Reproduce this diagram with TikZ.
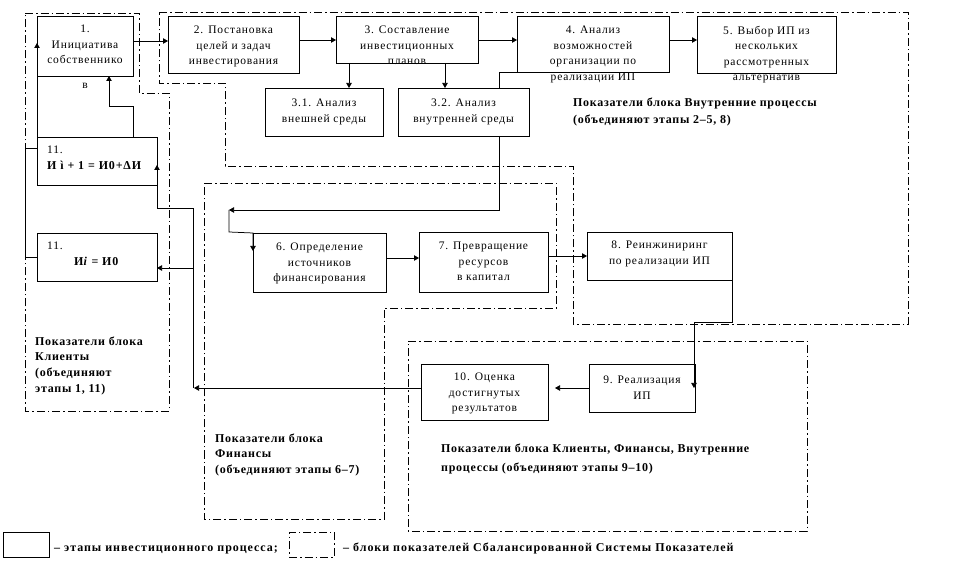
\documentclass[tikz,border=0pt]{standalone}
\usepackage{fontspec}
\setmainfont{Liberation Serif}
\newfontfamily\boxfont[LetterSpace=7]{Liberation Serif}
\newfontfamily\lblfont[LetterSpace=6]{Liberation Serif}
\newfontfamily\legfont[LetterSpace=8]{Liberation Serif}
\usetikzlibrary{arrows.meta,calc}
\begin{document}
\begin{tikzpicture}[x=1pt,y=-1pt,
  stepbox/.style={draw, line width=0.75pt, inner sep=0pt, outer sep=0pt},
  blkbox/.style={draw, line width=0.75pt, inner sep=0pt, outer sep=0pt, dash pattern=on 8pt off 3pt on 1.5pt off 3pt},
  boxtxt/.style={align=center, inner sep=0pt, anchor=north, font=\boxfont\fontsize{11.5}{15.5}\selectfont},
  fmltxt/.style={align=left, inner sep=0pt, anchor=north west, font=\boxfont\fontsize{11.5}{15.5}\selectfont},
  lbl/.style={align=left, inner sep=0pt, anchor=north west, font=\lblfont\bfseries\fontsize{12}{17}\selectfont},
  legtxt/.style={inner sep=0pt, anchor=base west, font=\legfont\bfseries\fontsize{12}{15}\selectfont},
  blk/.style={line width=0.75pt, dash pattern=on 8pt off 3pt on 1.5pt off 3pt},
  con/.style={line width=0.75pt},
  arr/.style={line width=0.75pt, -{Triangle[length=5pt,width=5.5pt]}}]
\fill[white] (0,0) rectangle (962,569);
\useasboundingbox (0,0) rectangle (962,569);

% blocks of indicators
\draw[blk] (25,13) -- (139,13) -- (139,93) -- (169,93) -- (169,411) -- (25,411) -- cycle;
\draw[blk] (159,12) -- (908,12) -- (908,324) -- (573,324) -- (573,166) -- (225,166) -- (225,83) -- (159,83) -- cycle;
\draw[blk] (204,183) -- (556,183) -- (556,308) -- (384,308) -- (384,519) -- (204,519) -- cycle;
\draw[blk] (408,341) -- (807,341) -- (807,531) -- (408,531) -- cycle;

% step boxes
\node[stepbox, minimum width=96pt, minimum height=60pt] (b1) at (85,46) {};
\node[stepbox, minimum width=131pt, minimum height=57pt] (b2) at (233.5,44.5) {};
\node[stepbox, minimum width=142pt, minimum height=47pt] (b3) at (407,39.5) {};
\node[stepbox, minimum width=152pt, minimum height=56pt] (b4) at (593,44) {};
\node[stepbox, minimum width=139pt, minimum height=57pt] (b5) at (766.5,44.5) {};
\node[stepbox, minimum width=118pt, minimum height=48pt] (b31) at (324,112) {};
\node[stepbox, minimum width=131pt, minimum height=48pt] (b32) at (463.5,112) {};
\node[stepbox, minimum width=133pt, minimum height=59pt] (b6) at (319.5,262.5) {};
\node[stepbox, minimum width=129pt, minimum height=60pt] (b7) at (483.5,262) {};
\node[stepbox, minimum width=145pt, minimum height=48pt] (b8) at (659.5,256) {};
\node[stepbox, minimum width=106pt, minimum height=48pt] (b9) at (642,388) {};
\node[stepbox, minimum width=127pt, minimum height=56pt] (b10) at (484.5,392) {};
\node[stepbox, minimum width=120pt, minimum height=48pt] (b11a) at (97,161) {};
\node[stepbox, minimum width=120pt, minimum height=48pt] (b11b) at (97,257) {};

% texts
\node[boxtxt] (t1) at (85,25) {1.\\Инициатива\\собственнико\\[9pt]в};
\node[boxtxt] (t2) at (233.5,26) {2. Постановка\\целей и задач\\инвестирования};
\node[boxtxt] (t3) at (407,26) {3. Составление\\инвестиционных\\планов};
\node[boxtxt] (t4) at (593,26) {4. Анализ\\возможностей\\организации по\\реализации ИП};
\node[boxtxt] (t5) at (766.5,26) {5. Выбор ИП из\\нескольких\\рассмотренных\\альтернатив};
\node[boxtxt] (t31) at (324,99) {3.1. Анализ\\внешней среды};
\node[boxtxt] (t32) at (463.5,99) {3.2. Анализ\\внутренней среды};
\node[boxtxt] (t6) at (319.5,243) {6. Определение\\источников\\финансирования};
\node[boxtxt] (t7) at (483.5,242) {7. Превращение\\ресурсов\\в капитал};
\node[boxtxt] (t8) at (659.5,241) {8. Реинжиниринг\\по реализации ИП};
\node[boxtxt] (t9) at (642,376) {9. Реализация\\ИП};
\node[boxtxt] (t10) at (484.5,373) {10. Оценка\\достигнутых\\результатов};
\node[fmltxt] (t11a) at (47,146) {11.\\{\bfseries\fontsize{12}{15}\selectfont И ì + 1 = И0+ΔИ}};
\node[fmltxt] (t11b) at (47,242) {11.\\\hspace*{27pt}{\bfseries\fontsize{12}{15}\selectfont И\textit{i} = И0}};

% block labels
\node[lbl] (lin) at (573,97.5) {Показатели блока Внутренние процессы\\(объединяют этапы 2–5, 8)};
\node[lbl, font=\lblfont\bfseries\fontsize{12}{19}\selectfont] (lkfv) at (441,443.5) {Показатели блока Клиенты, Финансы, Внутренние\\процессы (объединяют этапы 9–10)};
\node[lbl, font=\lblfont\bfseries\fontsize{12}{15.5}\selectfont] (lfin) at (215,433.5) {Показатели блока\\Финансы\\(объединяют этапы 6–7)};
\node[lbl, font=\lblfont\bfseries\fontsize{12}{15.7}\selectfont] (lcl) at (35,336.5) {Показатели блока\\Клиенты\\(объединяют\\этапы 1, 11)};

% connectors
\draw[arr] ($(b1.north east)+(0,25)$) -- ($(b2.north west)+(0,25)$);
\draw[arr] ($(b2.north east)+(0,24)$) -- ($(b3.north west)+(0,24)$);
\draw[arr] ($(b3.north east)+(0,24)$) -- ($(b4.north west)+(0,24)$);
\draw[arr] ($(b4.north east)+(0,24)$) -- ($(b5.north west)+(0,24)$);
\draw[arr] ($(b3.south west)+(13,0)$) -- ($(b31.north west)+(84,0)$);
\draw[arr] ($(b3.south west)+(109,0)$) -- ($(b32.north west)+(47,0)$);
\draw[con] (b4.south west) -- ($(b32.north west)+(101,-16)$) -- ($(b32.north west)+(101,0)$);
\draw[arr] ($(b32.south west)+(101,0)$) |- ($(b6.north west)+(-24,-23)$);
\draw[arr] ($(b6.north west)+(-24,-23)$) -- ($(b6.north west)+(-24,-1)$) -- (b6.north west) -- ($(b6.north west)+(0,18)$);
\draw[arr] ($(b6.north east)+(0,25)$) -- ($(b7.north west)+(0,26)$);
\draw[arr] ($(b7.north east)+(0,24)$) -- ($(b8.north west)+(0,24)$);
\draw[arr] (b8.south east) -- ++(0,42) -| ($(b9.north east)+(-1,24)$);
\draw[arr] ($(b9.north west)+(0,24)$) -- ($(b10.north east)+(7,24)$);
\draw[arr] ($(b10.north west)+(0,24)$) -- ($(b10.north west)+(-227,24)$);
\draw[arr] ($(b11a.south east)+(36,203)$) -- ($(b11a.south east)+(36,23)$) -- ($(b11a.south east)+(0,23)$) -- ($(b11a.south east)+(0,-20)$);
\draw[arr] ($(b11b.east)+(36,11)$) -- ($(b11b.east)+(0,11)$);
\draw[arr] ($(b11a.north west)+(96,0)$) -- ++(0,-31) -| ($(b1.south west)+(72,0)$);
\draw[arr] (b11b.west) -- ++(-12,0) |- ($(b11a.north west)+(0,11)$) -- ($(b1.north west)+(0,27)$);

% legend
\node[stepbox, minimum width=46pt, minimum height=25pt] (lg1) at (26,544.5) {};
\node[legtxt] (lg1t) at (54,551.5) {– этапы инвестиционного процесса;};
\node[blkbox, minimum width=45pt, minimum height=25pt] (lg2) at (311.5,544.5) {};
\node[legtxt] (lg2t) at (343,551.5) {– блоки показателей Сбалансированной Системы Показателей};
\end{tikzpicture}
\end{document}
